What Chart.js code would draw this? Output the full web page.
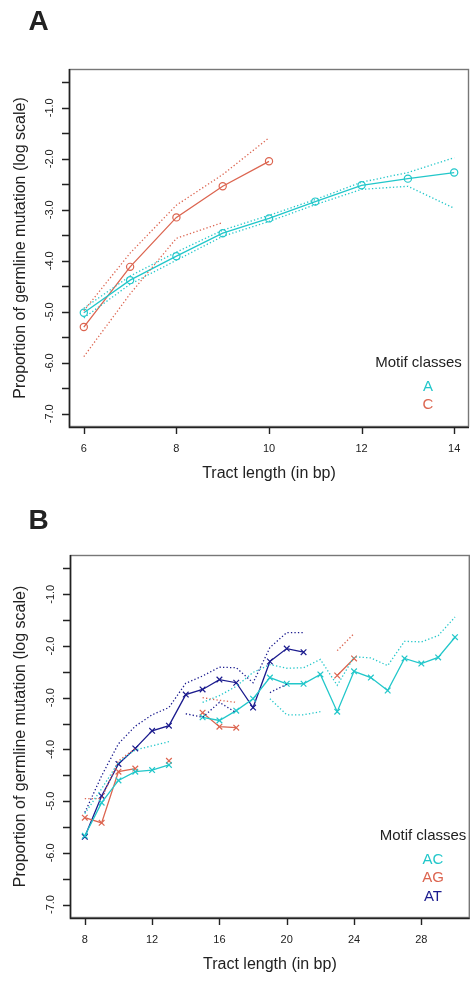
<!DOCTYPE html>
<html><head><meta charset="utf-8">
<script src="https://cdn.jsdelivr.net/npm/chart.js@4.4.1/dist/chart.umd.min.js"></script>
<style>
html,body{margin:0;padding:0;background:#fff;width:475px;height:982px;overflow:hidden;}
.wrap{position:absolute;left:0;width:475px;}
canvas{display:block;}
</style></head><body>
<div class="wrap" style="top:0;height:490px"><canvas id="cA" width="475" height="490"></canvas></div>
<div class="wrap" style="top:490px;height:492px"><canvas id="cB" width="475" height="492"></canvas></div>
<script>
// ---------- Panel A data ----------
const lengthsA = [6, 7, 8, 9, 10, 11, 12, 13, 14];
const motifA      = [-5.02, -4.38, -3.91, -3.46, -3.17, -2.84, -2.52, -2.39, -2.27];
const motifA_hi   = [-4.93, -4.30, -3.83, -3.40, -3.11, -2.80, -2.46, -2.27, -1.98];
const motifA_lo   = [-5.12, -4.46, -3.99, -3.52, -3.23, -2.90, -2.60, -2.54, -2.97];
const lengthsC = [6, 7, 8, 9, 10];
const motifC      = [-5.30, -4.12, -3.15, -2.54, -2.05];
const motifC_hi   = [-4.98, -3.85, -2.91, -2.31, -1.59];
const motifC_lo   = [-5.88, -4.65, -3.56, -3.25, null];
const classesA = ['A', 'C'];

// ---------- Panel B data ----------
const lengthsB = [8, 9, 10, 11, 12, 13, 14, 15, 16, 17, 18, 19, 20, 21, 22, 23, 24, 25, 26, 27, 28, 29, 30];
const motifAC    = [-5.67, -5.03, -4.60, -4.43, -4.40, -4.30, null, -3.38, -3.44, -3.25, -3.02, -2.61, -2.73, -2.73, -2.55, -3.27, -2.49, -2.61, -2.86, -2.24, -2.34, -2.22, -1.83];
const motifAC_hi = [-5.24, -4.76, -4.25, -4.01, -3.93, -3.85, null, -3.09, -2.96, -2.78, -2.51, -2.36, -2.43, -2.42, -2.26, -2.76, -2.21, -2.23, -2.38, -1.91, -1.92, -1.80, -1.44];
const motifAC_lo = [null, null, null, null, null, null, null, null, null, null, null, -3.02, -3.33, -3.33, -3.27, null, null, null, null, null, null, null, null];
const motifAG    = [-5.32, -5.42, -4.43, -4.37, null, -4.22, null, -3.29, -3.56, -3.58, null, null, null, null, null, -2.57, -2.24, null, null, null, null, null, null];
const motifAG_hi = [-4.95, -4.95, -4.22, -3.98, null, null, null, -3.00, -3.05, -3.09, null, null, null, null, null, -2.09, -1.76, null, null, null, null, null, null];
const motifAT    = [-5.69, -4.90, -4.28, -3.98, -3.64, -3.54, -2.94, -2.84, -2.65, -2.71, -3.19, -2.30, -2.05, -2.12, null, null, null, null, null, null, null, null, null];
const motifAT_hi = [-5.22, -4.51, -3.89, -3.55, -3.33, -3.19, -2.72, -2.58, -2.41, -2.42, -2.71, -2.03, -1.74, -1.74, null, null, null, null, null, null, null, null, null];
const motifAT_lo = [null, null, null, null, null, null, -3.31, -3.38, -3.09, -3.29, null, -2.90, -2.74, null, null, null, null, null, null, null, null, null, null];
const classesB = ['AC', 'AG', 'AT'];

// ---------- ticks ----------
const xTicksA = [6, 8, 10, 12, 14];
const xTicksB = [8, 12, 16, 20, 24, 28];
const yTickMarks = [-0.5, -1, -1.5, -2, -2.5, -3, -3.5, -4, -4.5, -5, -5.5, -6, -6.5, -7];
const yTickLabels = [-1, -2, -3, -4, -5, -6, -7];

const CYAN = '#22c7ca', RED = '#dc6550', NAVY = '#1b1b8e';
const FONT = '"Liberation Sans", Arial, sans-serif';

function pts(xs, ys) { return xs.map((x, i) => ({x: x, y: ys[i]})); }
function mainLine(xs, ys, color, style, r) {
  return {data: pts(xs, ys), borderColor: color, backgroundColor: 'rgba(0,0,0,0)', borderWidth: 1.3,
    pointStyle: style, pointRadius: r, pointBorderColor: color, pointBorderWidth: 1.2,
    pointBackgroundColor: 'rgba(0,0,0,0)', spanGaps: false, tension: 0};
}
function ciLine(xs, ys, color) {
  return {data: pts(xs, ys), borderColor: color, borderWidth: 1.3, borderDash: [1.3, 2.2],
    pointRadius: 0, spanGaps: false, tension: 0, fill: false};
}

const rAxes = {
  id: 'rAxes',
  afterDatasetsDraw(chart, args, o) {
    const ctx = chart.ctx, ca = chart.chartArea, x = chart.scales.x, y = chart.scales.y;
    ctx.save();
    // box
    ctx.strokeStyle = '#777'; ctx.lineWidth = 1.4;
    ctx.strokeRect(ca.left + 0.5, ca.top + 0.5, ca.right - ca.left - 1, ca.bottom - ca.top - 1);
    ctx.strokeStyle = '#222'; ctx.lineWidth = 1.6;
    ctx.beginPath();
    ctx.moveTo(ca.left + 0.5, ca.top); ctx.lineTo(ca.left + 0.5, ca.bottom + 0.5); ctx.lineTo(ca.right, ca.bottom + 0.5);
    ctx.stroke();
    // tick marks
    ctx.lineWidth = 1.4; ctx.beginPath();
    yTickMarks.forEach(v => { const py = Math.round(y.getPixelForValue(v)) + 0.5; ctx.moveTo(ca.left, py); ctx.lineTo(ca.left - 7, py); });
    o.xTicks.forEach(v => { const px = Math.round(x.getPixelForValue(v)) + 0.5; ctx.moveTo(px, ca.bottom); ctx.lineTo(px, ca.bottom + 7); });
    ctx.stroke();
    // tick labels
    ctx.fillStyle = '#222'; ctx.font = '11px ' + FONT; ctx.textAlign = 'center'; ctx.textBaseline = 'middle';
    o.xTicks.forEach(v => ctx.fillText(String(v), x.getPixelForValue(v), ca.bottom + 21.5));
    yTickLabels.forEach(v => {
      ctx.save(); ctx.translate(ca.left - 19.5, y.getPixelForValue(v)); ctx.rotate(-Math.PI / 2);
      ctx.fillText(v.toFixed(1), 0, 0); ctx.restore();
    });
    // axis titles
    ctx.font = '16px ' + FONT; ctx.fillStyle = '#222';
    ctx.fillText('Tract length (in bp)', (ca.left + ca.right) / 2 + o.xTitleShift, ca.bottom + 47);
    ctx.save(); ctx.translate(20.5, (ca.top + ca.bottom) / 2); ctx.rotate(-Math.PI / 2);
    ctx.fillText('Proportion of germline mutation (log scale)', 0, 0); ctx.restore();
    // panel letter
    ctx.font = 'bold 28px ' + FONT; ctx.textBaseline = 'alphabetic';
    ctx.fillText(o.letter, 38.5, o.letterY);
    // legend
    ctx.font = '15px ' + FONT; ctx.textBaseline = 'middle';
    ctx.fillStyle = '#222';
    ctx.fillText('Motif classes', o.legX, o.legY);
    o.classes.forEach((c, i) => { ctx.fillStyle = o.colors[i]; ctx.fillText(c, o.legEntryX, o.legY + 23.5 + i * 18.8); });
    ctx.restore();
  }
};

function makeChart(id, datasets, xmin, xmax, pad, opts) {
  return new Chart(document.getElementById(id), {
    type: 'line',
    data: {datasets: datasets},
    options: {
      responsive: false, animation: false, devicePixelRatio: 1,
      layout: {padding: pad},
      scales: {
        x: {type: 'linear', min: xmin, max: xmax, display: false},
        y: {type: 'linear', min: -7.26, max: -0.24, display: false}
      },
      plugins: {legend: {display: false}, tooltip: {enabled: false}, title: {display: false}, rAxes: opts}
    },
    plugins: [rAxes]
  });
}

makeChart('cA', [
  ciLine(lengthsA, motifA_hi, CYAN), ciLine(lengthsA, motifA_lo, CYAN),
  ciLine(lengthsC, motifC_hi, RED), ciLine(lengthsC, motifC_lo, RED),
  mainLine(lengthsA, motifA, CYAN, 'circle', 3.6),
  mainLine(lengthsC, motifC, RED, 'circle', 3.6)
], 5.68, 14.32, {left: 69, right: 6, top: 69, bottom: 63},
  {xTicks: xTicksA, letter: 'A', letterY: 30, classes: classesA, colors: [CYAN, RED], legX: 418.5, legY: 363, legEntryX: 428, xTitleShift: 0});

makeChart('cB', [
  ciLine(lengthsB, motifAC_hi, CYAN), ciLine(lengthsB, motifAC_lo, CYAN),
  ciLine(lengthsB, motifAG_hi, RED),
  ciLine(lengthsB, motifAT_hi, NAVY), ciLine(lengthsB, motifAT_lo, NAVY),
  mainLine(lengthsB, motifAC, CYAN, 'crossRot', 4),
  mainLine(lengthsB, motifAG, RED, 'crossRot', 4),
  mainLine(lengthsB, motifAT, NAVY, 'crossRot', 4)
], 7.12, 30.88, {left: 70, right: 0, top: 65, bottom: 64},
  {xTicks: xTicksB, letter: 'B', letterY: 39, classes: classesB, colors: [CYAN, RED, NAVY], legX: 423, legY: 346, legEntryX: 433, xTitleShift: 0});
</script>
</body></html>
